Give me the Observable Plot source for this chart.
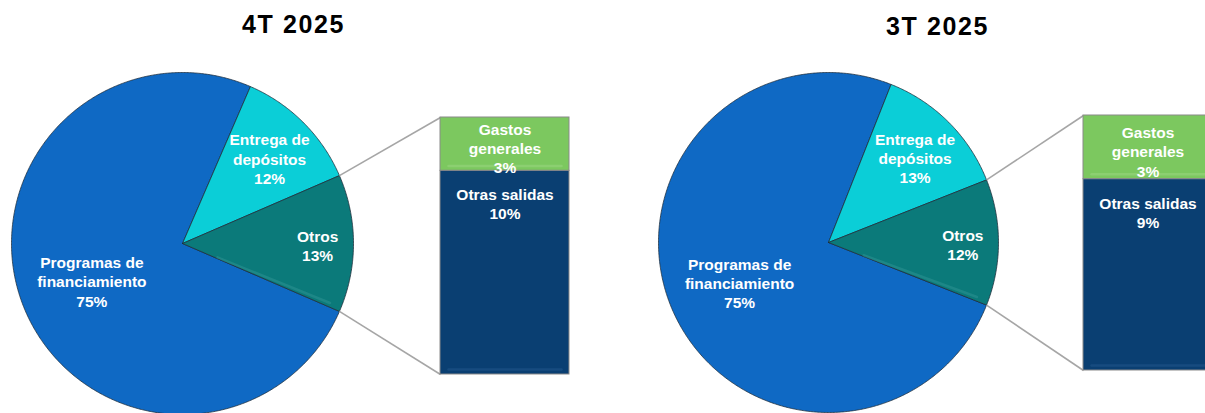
<!DOCTYPE html>
<html><head><meta charset="utf-8">
<script src="https://cdn.jsdelivr.net/npm/d3@7"></script>
<script src="https://cdn.jsdelivr.net/npm/@observablehq/plot@0.6"></script>
<style>html,body{margin:0;padding:0;background:#fff;overflow:hidden;}</style>
</head><body><div id="chart"></div>
<script>
// ---- data ----
const periods = ["4T 2025", "3T 2025"];
const pieCategories = ["Programas de\nfinanciamiento", "Entrega de\ndepósitos", "Otros"];
const pieValues4T = [75, 12, 13];
const pieValues3T = [75, 13, 12];
const barCategories = ["Gastos\ngenerales", "Otras salidas"];
const barValues4T = [2.7, 10.3];
const barValues3T = [3, 9];

// ---- style / layout ----
const pieColors = ["#0f69c4", "#0bced7", "#0b7a7a"];
const barColors = ["#7cc85f", "#0a3f72"];
const W = 1205, H = 413;
const layout = [
  {cx: 182, cy: 243, r: 171, barX: 440, barTop: 117, barBottom: 374, titleX: 293, titleY: 32},
  {cx: 828, cy: 242, r: 170, barX: 1083, barTop: 115, barBottom: 370, titleX: 937, titleY: 34}
];
const barWidth = 129;
const labelFrac = [0.57, 0.72, 0.79];
const panels = [
  {period: periods[0], pie: pieValues4T, bar: barValues4T, L: layout[0]},
  {period: periods[1], pie: pieValues3T, bar: barValues3T, L: layout[1]}
];

function pt(L, ang, rr) { return {x: L.cx + rr * Math.sin(ang), y: L.cy - rr * Math.cos(ang)}; }

function sliceAngles(values) {
  const total = d3.sum(values);
  const span = v => v / total * 2 * Math.PI;
  // "Otros" (exploded into the bar) centred at 3 o'clock; clockwise: Entrega, Otros, Programas
  let a = Math.PI / 2 - span(values[2]) / 2 - span(values[1]);
  const out = [];
  for (const i of [1, 2, 0]) { out[i] = {start: a, end: a + span(values[i])}; a += span(values[i]); }
  return out;
}

const slicePts = [], labels = [], links = [], rects = [], titles = [], highlights = [];
panels.forEach((p, pi) => {
  const L = p.L;
  const ang = sliceAngles(p.pie);
  ang.forEach((s, i) => {
    const key = pi + "-" + i;
    const n = Math.max(2, Math.ceil((s.end - s.start) / (Math.PI / 360)));
    slicePts.push({key, fill: pieColors[i], ...pt(L, 0, 0)});
    for (let k = 0; k <= n; k++) {
      slicePts.push({key, fill: pieColors[i], ...pt(L, s.start + (s.end - s.start) * k / n, L.r)});
    }
    slicePts.push({key, fill: pieColors[i], ...pt(L, 0, 0)});
    const mid = (s.start + s.end) / 2;
    labels.push({text: pieCategories[i] + "\n" + Math.round(p.pie[i]) + "%", ...pt(L, mid, L.r * labelFrac[i])});
  });
  const o = ang[2];
  const pUp = pt(L, o.start, L.r), pLo = pt(L, o.end, L.r);
  links.push({x1: pUp.x, y1: pUp.y, x2: L.barX, y2: L.barTop});
  links.push({x1: pLo.x, y1: pLo.y, x2: L.barX, y2: L.barBottom});
  // Otros highlight band (bevel)
  const h1 = pt(L, o.end - 0.03, L.r * 0.22), h2 = pt(L, o.end - 0.025, L.r * 0.93);
  highlights.push({x1: h1.x, y1: h1.y, x2: h2.x, y2: h2.y, stroke: "#3a9c9c"});
  // bar
  const tot = d3.sum(p.bar), h = L.barBottom - L.barTop;
  let y = L.barTop;
  p.bar.forEach((v, i) => {
    const y2 = y + v / tot * h;
    rects.push({x1: L.barX, x2: L.barX + barWidth, y1: y, y2, fill: barColors[i], idx: i,
      text: barCategories[i] + "\n" + Math.round(v) + "%", tx: L.barX + barWidth / 2});
    highlights.push({x1: L.barX + 8, y1: y2 - 5, x2: L.barX + barWidth - 8, y2: y2 - 5,
      stroke: i === 0 ? "#a4da8c" : "#2a5f94"});
    y = y2;
  });
  titles.push({text: p.period, x: L.titleX, y: L.titleY});
});

const font = "Liberation Sans, Arial, Helvetica, sans-serif";
const chart = Plot.plot({
  width: W, height: H,
  margin: 0,
  x: {domain: [0, W], range: [0, W], axis: null},
  y: {domain: [0, H], range: [0, H], axis: null},
  color: {type: "identity"},
  style: {fontFamily: font, background: "#fff"},
  marks: [
    Plot.line(slicePts, {x: "x", y: "y", z: "key", fill: "fill", stroke: "#1e2d3a", strokeWidth: 0.9,
      strokeOpacity: 0.85, curve: "linear", strokeLinejoin: "round"}),
    Plot.link(links, {x1: "x1", y1: "y1", x2: "x2", y2: "y2", stroke: "#a6a6a6", strokeWidth: 1.6}),
    Plot.rect(rects, {x1: "x1", x2: "x2", y1: "y1", y2: "y2", fill: "fill", stroke: "#8a8a8a", strokeWidth: 1}),
    Plot.link(highlights, {x1: "x1", y1: "y1", x2: "x2", y2: "y2", stroke: "stroke", strokeWidth: 2.5,
      strokeOpacity: 0.4, strokeLinecap: "round"}),
    Plot.text(labels, {x: "x", y: "y", text: "text", fill: "#fff", fontSize: 15.5, fontWeight: "bold",
      lineHeight: 1.23, dy: 2, fontFamily: font}),
    // Gastos generales: centred in its segment
    Plot.text(rects.filter(d => d.idx === 0), {x: "tx", y: d => (d.y1 + d.y2) / 2, text: "text", fill: "#fff",
      fontSize: 15.5, fontWeight: "bold", lineHeight: 1.23, dy: 4, fontFamily: font}),
    // Otras salidas: near the top of its segment
    Plot.text(rects.filter(d => d.idx === 1), {x: "tx", y: "y1", text: "text", fill: "#fff",
      fontSize: 15.5, fontWeight: "bold", lineHeight: 1.23, lineAnchor: "top", dy: 16, fontFamily: font}),
    Plot.text(titles, {x: "x", y: "y", text: "text", fill: "#000", fontSize: 25, fontWeight: "bold",
      lineAnchor: "bottom", fontFamily: font})
  ]
});
d3.select(chart).selectAll("text").filter(function () { return periods.includes(this.textContent); })
  .attr("letter-spacing", "1.6");
document.getElementById("chart").appendChild(chart);
</script>
</body></html>
